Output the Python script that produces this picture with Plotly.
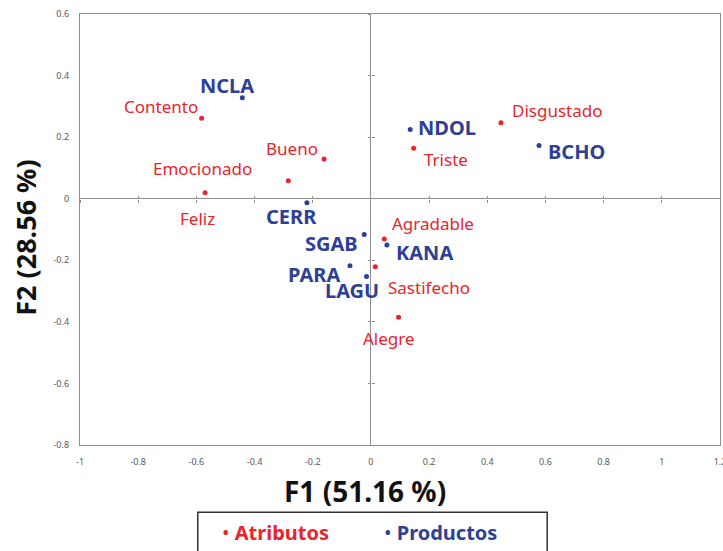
import plotly.graph_objects as go

# Biplot coordinates (F1, F2)
atributos = ["Contento", "Bueno", "Emocionado", "Feliz", "Disgustado", "Triste",
             "Agradable", "Sastifecho", "Alegre"]
atrib_f1 = [-0.582, -0.161, -0.284, -0.570, 0.447, 0.147, 0.046, 0.015, 0.095]
atrib_f2 = [0.261, 0.129, 0.058, 0.019, 0.247, 0.164, -0.131, -0.221, -0.385]

productos = ["NCLA", "CERR", "NDOL", "BCHO", "SGAB", "KANA", "PARA", "LAGU"]
prod_f1 = [-0.442, -0.220, 0.135, 0.578, -0.023, 0.055, -0.072, -0.015]
prod_f2 = [0.328, -0.013, 0.225, 0.173, -0.116, -0.150, -0.218, -0.253]

x_tickvals = [-1, -0.8, -0.6, -0.4, -0.2, 0, 0.2, 0.4, 0.6, 0.8, 1, 1.2]
x_ticktext = ["-1", "-0.8", "-0.6", "-0.4", "-0.2", "0", "0.2", "0.4", "0.6", "0.8", "1", "1.2"]
y_tickvals = [-0.8, -0.6, -0.4, -0.2, 0, 0.2, 0.4, 0.6]
y_ticktext = ["-0.8", "-0.6", "-0.4", "-0.2", "0", "0.2", "0.4", "0.6"]

# label placement (pixel shifts from each point)
atrib_shift = {
    "Contento": (-41, 12), "Bueno": (-32, 11), "Emocionado": (-86, 12),
    "Feliz": (-8, -26), "Disgustado": (56, 12), "Triste": (32, -11),
    "Agradable": (49, 16), "Sastifecho": (54, -21), "Alegre": (-10, -21),
}
prod_shift = {
    "NCLA": (-15, 12), "CERR": (-15, -14), "NDOL": (37, 2), "BCHO": (37, -6),
    "SGAB": (-33, -9), "KANA": (38, -8), "PARA": (-36, -9), "LAGU": (-15, -14),
}

RED = "#e8242c"
BLUE = "#2e3f95"
GRAY = "#8f8f8f"
FONT = "Noto Sans"

fig = go.Figure()
fig.add_trace(go.Scatter(x=atrib_f1, y=atrib_f2, mode="markers", name="Atributos",
                         marker=dict(color=RED, size=5), showlegend=False))
fig.add_trace(go.Scatter(x=prod_f1, y=prod_f2, mode="markers", name="Productos",
                         marker=dict(color=BLUE, size=5), showlegend=False))

# empty traces so the tick-only overlay axes are rendered
for xa, ya in [("x2", "y"), ("x3", "y"), ("x", "y2"), ("x", "y3")]:
    fig.add_trace(go.Scatter(x=[None], y=[None], xaxis=xa, yaxis=ya,
                             showlegend=False, hoverinfo="skip"))

annotations = []
for name, x, y in zip(atributos, atrib_f1, atrib_f2):
    dx, dy = atrib_shift[name]
    annotations.append(dict(x=x, y=y, xref="x", yref="y", text=name, showarrow=False,
                            xshift=dx, yshift=dy, xanchor="center", yanchor="middle",
                            font=dict(family=FONT, size=17, color=RED)))
for name, x, y in zip(productos, prod_f1, prod_f2):
    dx, dy = prod_shift[name]
    annotations.append(dict(x=x, y=y, xref="x", yref="y", text="<b>%s</b>" % name,
                            showarrow=False, xshift=dx, yshift=dy,
                            xanchor="center", yanchor="middle",
                            font=dict(family=FONT, size=20, color=BLUE)))

# axis titles
annotations.append(dict(x=0.445, y=-0.107, xref="paper", yref="paper",
                        text="<b>F1 (51.16 %)</b>", showarrow=False,
                        xanchor="center", yanchor="middle",
                        font=dict(family=FONT, size=28, color="#111111")))
annotations.append(dict(x=-0.085, y=0.48, xref="paper", yref="paper",
                        text="<b>F2 (28.56 %)</b>", showarrow=False, textangle=-90,
                        xanchor="center", yanchor="middle",
                        font=dict(family=FONT, size=27, color="#111111")))

# legend entries
annotations.append(dict(x=0.3055, y=-0.203, xref="paper", yref="paper",
                        text="• <b>Atributos</b>", showarrow=False,
                        xanchor="center", yanchor="middle",
                        font=dict(family=FONT, size=20, color=RED)))
annotations.append(dict(x=0.5625, y=-0.203, xref="paper", yref="paper",
                        text="• <b>Productos</b>", showarrow=False,
                        xanchor="center", yanchor="middle",
                        font=dict(family=FONT, size=20, color=BLUE)))

shapes = [dict(type="rect", xref="paper", yref="paper", x0=0.184, x1=0.73,
               y0=-0.156, y1=-0.30, line=dict(color="#333333", width=1.5),
               fillcolor="rgba(0,0,0,0)")]

tickfont = dict(family=FONT, size=9, color="#595959")
base_axis = dict(showgrid=False, zeroline=True, zerolinecolor=GRAY, zerolinewidth=1.3,
                 showline=True, linecolor=GRAY, linewidth=1.3, mirror=True,
                 ticks="", tickfont=tickfont, ticklabelstandoff=8,
                 ticklabeloverflow="allow")
overlay = dict(showgrid=False, zeroline=False, showline=False, showticklabels=False,
               tickcolor=GRAY, tickwidth=1.2, ticklen=3, anchor="free")

fig.update_layout(
    width=723, height=551,
    margin=dict(l=80, r=3, t=14, b=106, autoexpand=False),
    paper_bgcolor="white", plot_bgcolor="white",
    xaxis=dict(range=[-1, 1.2], tickvals=x_tickvals, ticktext=x_ticktext, **base_axis),
    yaxis=dict(range=[-0.8, 0.6], tickvals=y_tickvals, ticktext=y_ticktext, **base_axis),
    xaxis2=dict(overlaying="x", range=[-1, 1.2], tickvals=x_tickvals, side="bottom",
                position=0.8 / 1.4, ticks="outside", **overlay),
    xaxis3=dict(overlaying="x", range=[-1, 1.2], tickvals=x_tickvals, side="bottom",
                position=0.8 / 1.4, ticks="inside", **overlay),
    yaxis2=dict(overlaying="y", range=[-0.8, 0.6], tickvals=y_tickvals, side="left",
                position=1 / 2.2, ticks="outside", **overlay),
    yaxis3=dict(overlaying="y", range=[-0.8, 0.6], tickvals=y_tickvals, side="left",
                position=1 / 2.2, ticks="inside", **overlay),
    annotations=annotations,
    shapes=shapes,
    showlegend=False,
)

fig.write_html("out.html")
